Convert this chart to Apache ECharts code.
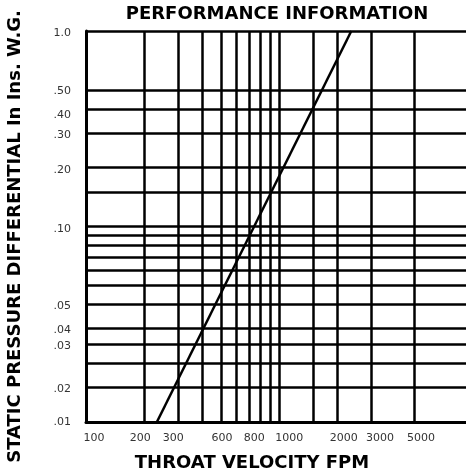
<!DOCTYPE html>
<html>
<head>
<meta charset="utf-8">
<script src="https://cdn.jsdelivr.net/npm/echarts@6/dist/echarts.min.js"></script>
<style>
  html, body { margin: 0; padding: 0; background: #fff; }
  #chart { width: 466px; height: 472px; }
</style>
</head>
<body>
<div id="chart"></div>
<script>
// grid lines of the log-log paper
var xGrid = [200, 300, 400, 500, 600, 700, 800, 900, 1000, 1500, 2000, 3000, 5000];
var yGrid = [1.0, 0.5, 0.4, 0.3, 0.2, 0.15, 0.1, 0.09, 0.08, 0.07, 0.06, 0.05, 0.04, 0.03, 0.025, 0.02, 0.015];

// printed tick labels and where they sit on the scale (as printed, not on the lines)
var xLabelText = ['100', '200', '300', '600', '800', '1000', '2000', '3000', '5000'];
var xLabelAt = [110, 191, 283, 506, 744, 1131, 2164, 3336, 5443];
var yLabelText = ['1.0', '.50', '.40', '.30', '.20', '.10', '.05', '.04', '.03', '.02', '.01'];
var yLabelAt = [0.98, 0.494, 0.37, 0.293, 0.194, 0.097, 0.039, 0.0295, 0.0245, 0.0147, 0.01];

// performance line: throat velocity (FPM) vs static pressure (in. W.G.)
var velocity = [233, 2370];
var pressure = [0.01, 1.0];

function pickLabel(v, at, text) {
    var best = 0, d = Infinity;
    for (var i = 0; i < at.length; i++) {
        var dd = Math.abs(Math.log(v) - Math.log(at[i]));
        if (dd < d) { d = dd; best = i; }
    }
    return text[best];
}

var chart = echarts.init(document.getElementById('chart'));

var gridData = [];
xGrid.forEach(function (v) { gridData.push({ xAxis: v }); });
yGrid.forEach(function (v) { gridData.push({ yAxis: v }); });

var option = {
    animation: false,
    title: {
        text: 'PERFORMANCE INFORMATION',
        left: 272,
        top: 0,
        textAlign: 'center',
        textStyle: { fontFamily: 'DejaVu Sans', fontWeight: 'bold', fontSize: 18, color: '#000' }
    },
    grid: { left: 86, top: 31, right: -6, bottom: 50, outerBoundsMode: 'none', containLabel: false },
    xAxis: {
        type: 'log',
        min: 100,
        max: 10000,
        name: 'THROAT VELOCITY FPM',
        nameLocation: 'middle',
        nameGap: 32,
        nameTextStyle: {
            fontFamily: 'DejaVu Sans', fontWeight: 'bold', fontSize: 18, color: '#000',
            verticalAlign: 'top', padding: [0, 54, 0, 0]
        },
        axisLine: { lineStyle: { color: '#000', width: 3 } },
        axisTick: { show: false },
        splitLine: { show: false },
        axisLabel: {
            customValues: xLabelAt,
            margin: 11,
            fontFamily: 'DejaVu Sans',
            fontSize: 11,
            color: '#333',
            formatter: function (v) { return pickLabel(v, xLabelAt, xLabelText); }
        }
    },
    yAxis: {
        type: 'log',
        min: 0.01,
        max: 1,
        name: 'STATIC PRESSURE DIFFERENTIAL In Ins. W.G.',
        nameLocation: 'middle',
        nameGap: 62,
        nameRotate: 90,
        nameTextStyle: {
            fontFamily: 'DejaVu Sans', fontWeight: 'bold', fontSize: 18, color: '#000',
            padding: [0, 20, 0, 0]
        },
        axisLine: { lineStyle: { color: '#000', width: 3 } },
        axisTick: { show: false },
        splitLine: { show: false },
        axisLabel: {
            customValues: yLabelAt,
            margin: 15,
            fontFamily: 'DejaVu Sans',
            fontSize: 11,
            color: '#333',
            formatter: function (v) { return pickLabel(v, yLabelAt, yLabelText); }
        }
    },
    series: [{
        type: 'line',
        data: velocity.map(function (v, i) { return [v, pressure[i]]; }),
        symbol: 'none',
        lineStyle: { color: '#000', width: 2.5 },
        z: 5,
        markLine: {
            silent: true,
            precision: 5,
            symbol: ['none', 'none'],
            label: { show: false },
            lineStyle: { color: '#000', width: 2.5, type: 'solid' },
            data: gridData
        }
    }]
};

chart.setOption(option);
</script>
</body>
</html>
